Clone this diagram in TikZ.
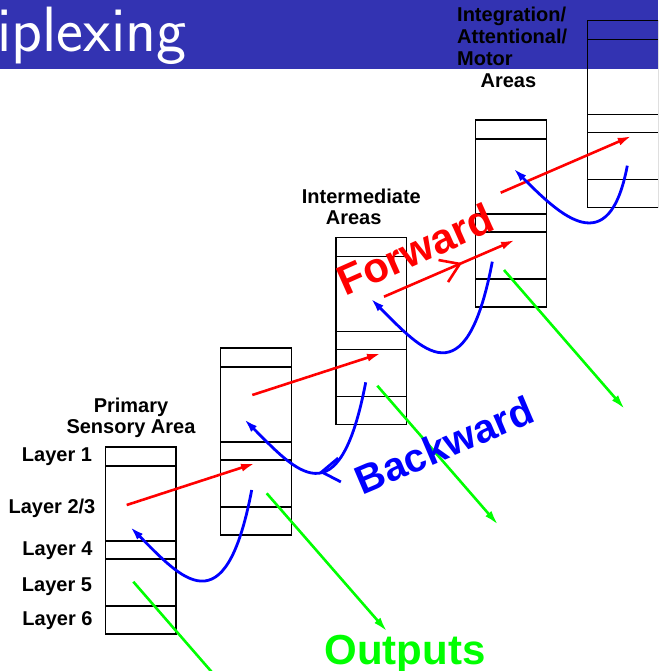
\documentclass[tikz,border=0pt]{standalone}
\usepackage{fontspec}
\setmainfont{Liberation Sans}
\usepackage{xcolor}
\usetikzlibrary{arrows.meta,decorations.markings}
\definecolor{headblue}{rgb}{0.2,0.2,0.7}

\begin{document}
\begin{tikzpicture}[x=1pt,y=-1pt,
	layerlbl/.style={font=\fontsize{20}{21}\selectfont\bfseries,inner sep=0pt},
	biglbl/.style={font=\fontsize{42}{42}\selectfont\bfseries,inner sep=0pt},
	fwdarrow/.style={-{Latex[length=14pt,width=8pt]},line width=2.6pt,red},
	bwdarrow/.style={-{Latex[length=14pt,width=8pt]},line width=2.8pt,blue},
	outarrow/.style={-{Latex[length=15pt,width=8pt]},line width=2.6pt,green},
	midbarb/.style={postaction={decorate},decoration={markings,mark=at position #1 with {\arrow{Straight Barb[length=18pt,width=24pt]}}}}]
	\clip (0,0) rectangle (658,671);
	\fill[headblue] (0,0) rectangle (658,69);
	\node[anchor=base west,inner sep=0pt,text=white,font=\sffamily\fontsize{64}{64}\selectfont] (title) at (-3,52) {iplexing};
	\foreach \cx/\cy/\cn in {105.5/447/a,220.7/348/b,336/237.3/c,475.7/120/d,587.7/20.7/e}{
		\draw[line width=1.4pt] (\cx,\cy) rectangle ++(70.5,187);
		\foreach \ly in {19,94,112,159}
			\draw[line width=1.4pt] (\cx,\cy+\ly) -- ++(70.5,0);
		\coordinate (\cn) at (\cx,\cy);
	}
	\coordinate (f1s) at (126.7,505);   \coordinate (f1e) at (255,463.3);
	\coordinate (f2s) at (252.3,395);   \coordinate (f2e) at (381,353.3);
	\coordinate (f3s) at (384,296.7);   \coordinate (f3e) at (515,240);
	\coordinate (f4s) at (500.7,192.7); \coordinate (f4e) at (631.7,136);
	\coordinate (o1s) at (133.3,581.7); \coordinate (o1e) at (254.3,721);
	\coordinate (o2s) at (266.7,493.3); \coordinate (o2e) at (387.3,631.7);
	\coordinate (o3s) at (377.3,385.7); \coordinate (o3e) at (498.3,525);
	\coordinate (o4s) at (504,270);     \coordinate (o4e) at (625,409.3);
	\coordinate (b1s) at (251.7,490);   \coordinate (b1e) at (130,526.7);
	\coordinate (b2s) at (365.7,382.3); \coordinate (b2e) at (244,419);
	\coordinate (b3s) at (492.3,261.7); \coordinate (b3e) at (370.6,298.4);
	\coordinate (b4s) at (627.3,165.7); \coordinate (b4e) at (513.3,168.3);
	\draw[fwdarrow] (f1s) -- (f1e);
	\draw[fwdarrow] (f2s) -- (f2e);
	\draw[fwdarrow,midbarb=0.595] (f3s) -- (f3e);
	\draw[fwdarrow] (f4s) -- (f4e);
	\draw[outarrow] (o1s) -- (o1e);
	\draw[outarrow] (o2s) -- (o2e);
	\draw[outarrow] (o3s) -- (o3e);
	\draw[outarrow] (o4s) -- (o4e);
	\draw[bwdarrow] (b1s) .. controls (225,630) and (181,577.7) .. (b1e);
	\draw[bwdarrow,midbarb=0.53] (b2s) .. controls (339,522.3) and (295,470) .. (b2e);
	\draw[bwdarrow] (b3s) .. controls (465.6,401.7) and (421.6,349.4) .. (b3e);
	\draw[bwdarrow] (b4s) .. controls (608.9,262.8) and (560.2,215.2) .. (b4e);
	\node[layerlbl] (lay1) at (57,456.7) {Layer 1};
	\node[layerlbl] (lay23) at (52,508) {Layer 2/3};
	\node[layerlbl] (lay4) at (57.5,550.5) {Layer 4};
	\node[layerlbl] (lay5) at (57,586.3) {Layer 5};
	\node[layerlbl] (lay6) at (57.5,620.8) {Layer 6};
	\node[layerlbl,align=center] (prim) at (131,417.7) {Primary\\Sensory Area};
	\node[layerlbl,align=left,anchor=west] (inter) at (301.7,206.5) {Intermediate\\\hspace*{24pt}Areas};
	\node[layerlbl,align=left,anchor=west,font=\fontsize{20}{21.8}\selectfont\bfseries] (integ) at (457,47.5) {Integration/\\Attentional/\\Motor\\\hspace*{23.4pt}Areas};
	\node[biglbl,rotate=24,text=red] (fwd) at (415.5,249.5) {Forward};
	\node[biglbl,rotate=23,text=blue,font=\fontsize{40}{40}\selectfont\bfseries] (bwd) at (444,445) {Backward};
	\node[biglbl,anchor=base,text=green] (outs) at (405,664) {Outputs};
\end{tikzpicture}
\end{document}
